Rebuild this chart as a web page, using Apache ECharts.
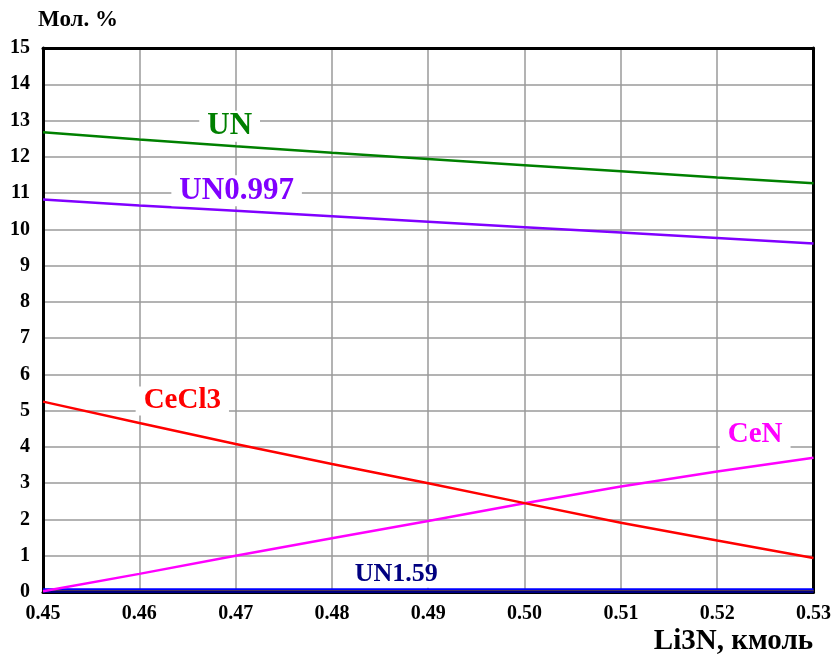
<!DOCTYPE html>
<html>
<head>
<meta charset="utf-8">
<script src="https://cdn.jsdelivr.net/npm/echarts@6/dist/echarts.min.js"></script>
<style>
  html, body { margin: 0; padding: 0; background: #fff; }
  #chart { width: 834px; height: 654px; }
</style>
</head>
<body>
<div id="chart"></div>
<script>
// Li3N amount, kmol
const li3n = [0.45, 0.46, 0.47, 0.48, 0.49, 0.50, 0.51, 0.52, 0.53];

// Equilibrium composition, mol. %
const un      = [12.68, 12.48, 12.29, 12.11, 11.94, 11.77, 11.60, 11.43, 11.27];
const un0997  = [10.82, 10.66, 10.51, 10.36, 10.21, 10.06, 9.91, 9.76, 9.61];
const cecl3   = [5.25, 4.66, 4.08, 3.53, 3.00, 2.45, 1.91, 1.42, 0.94];
const cen     = [0.02, 0.50, 1.00, 1.48, 1.96, 2.45, 2.91, 3.32, 3.70];
const traceA  = [0.07, 0.07, 0.07, 0.07, 0.07, 0.07, 0.07, 0.07, 0.07];
const traceB  = [0.035, 0.035, 0.035, 0.035, 0.035, 0.035, 0.035, 0.035, 0.035];
const un159   = [0.01, 0.01, 0.01, 0.01, 0.01, 0.01, 0.01, 0.01, 0.01];

const yTicks = [0, 15, 1];
const xTicks = [0.45, 0.53, 0.01];

const serif = '"Liberation Serif", "Times New Roman", serif';

function pairs(vals) { return li3n.map((x, i) => [x, vals[i]]); }

// curve caption placed next to one of the curve's points
function caption(text, color, vals, idx, offset, size) {
  return {
    symbol: 'circle', symbolSize: 0, silent: true,
    data: [{ coord: [li3n[idx], vals[idx]] }],
    label: {
      show: true, position: 'inside', offset: offset,
      formatter: text, color: color,
      fontFamily: serif, fontWeight: 'bold', fontSize: size,
      backgroundColor: '#fff', padding: [0, 8]
    }
  };
}

function curve(name, vals, color, width, mp) {
  const s = {
    name: name, type: 'line', data: pairs(vals),
    showSymbol: false, symbol: 'none', animation: false,
    lineStyle: { color: color, width: width },
    itemStyle: { color: color }
  };
  if (mp) s.markPoint = mp;
  return s;
}

const gridLine = { show: true, showMinLine: false, showMaxLine: false, lineStyle: { color: '#9a9a9a', width: 1.5 } };
const frame = { show: true, onZero: false, lineStyle: { color: '#000', width: 3 } };

const chart = echarts.init(document.getElementById('chart'), null, { renderer: 'canvas' });
chart.setOption({
  backgroundColor: '#fff',
  animation: false,
  grid: { left: 43, right: 19, top: 48, bottom: 62 },
  xAxis: [{
    type: 'value', min: xTicks[0], max: xTicks[1], interval: xTicks[2],
    axisLine: frame, axisTick: { show: false },
    splitLine: gridLine,
    axisLabel: {
      color: '#000', fontFamily: serif, fontWeight: 'bold', fontSize: 20, margin: 12,
      formatter: v => v.toFixed(2)
    }
  }, {
    type: 'value', position: 'top', min: xTicks[0], max: xTicks[1], interval: xTicks[2],
    axisLine: frame, axisTick: { show: false }, axisLabel: { show: false }, splitLine: { show: false }
  }],
  yAxis: [{
    type: 'value', min: yTicks[0], max: yTicks[1], interval: yTicks[2],
    axisLine: frame, axisTick: { show: false },
    splitLine: gridLine,
    axisLabel: { color: '#000', fontFamily: serif, fontWeight: 'bold', fontSize: 20, margin: 13 }
  }, {
    type: 'value', position: 'right', min: yTicks[0], max: yTicks[1], interval: yTicks[2],
    axisLine: frame, axisTick: { show: false }, axisLabel: { show: false }, splitLine: { show: false }
  }],
  graphic: [
    { type: 'text', left: 38, top: 9, style: { text: 'Мол. %', fill: '#000', font: 'bold 23px ' + serif } },
    { type: 'text', right: 21, top: 627, style: { text: 'Li3N, кмоль', fill: '#000', font: 'bold 29px ' + serif } }
  ],
  series: [
    curve('traceA', traceA, '#0000ff', 2.5),
    curve('traceB', traceB, '#996633', 1.5),
    curve('UN1.59', un159, '#000080', 2.5, caption('UN1.59', '#000080', un159, 4, [-32, -17], 26)),
    curve('CeN', cen, '#ff00ff', 2.5, caption('CeN', '#ff00ff', cen, 7, [38, -37], 29)),
    curve('CeCl3', cecl3, '#ff0000', 2.5, caption('CeCl3', '#ff0000', cecl3, 1, [43, -22], 29)),
    curve('UN0.997', un0997, '#8000ff', 2.5, caption('UN0.997', '#8000ff', un0997, 2, [1, -20], 31)),
    curve('UN', un, '#008000', 2.5, caption('UN', '#008000', un, 2, [-6, -20], 31))
  ]
});
</script>
</body>
</html>
